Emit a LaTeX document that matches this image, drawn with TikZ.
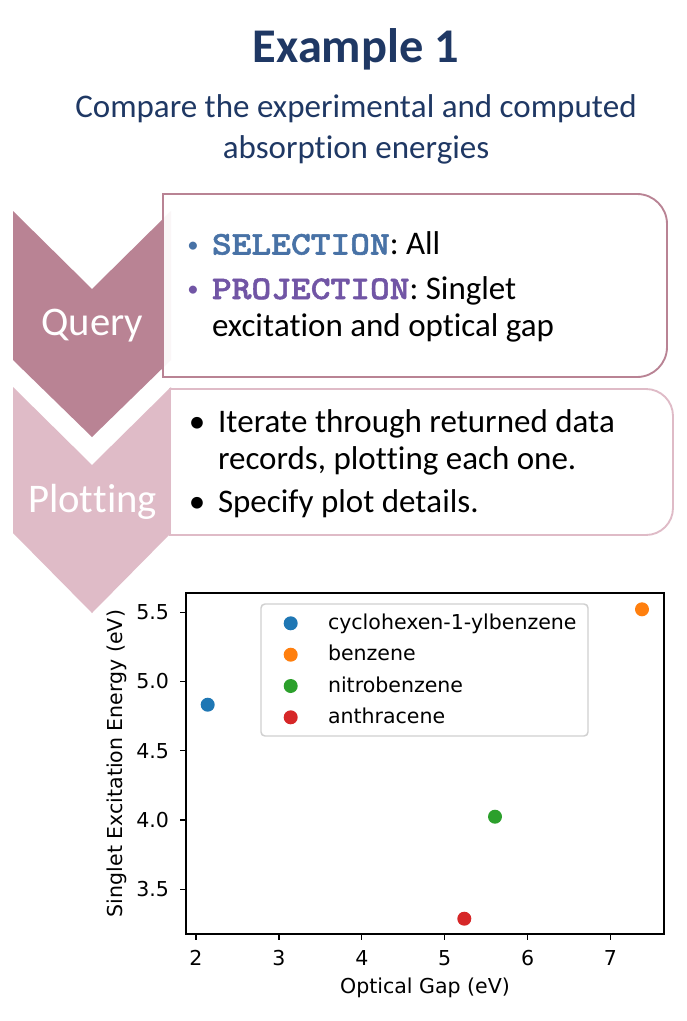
\documentclass[tikz,border=0pt]{standalone}
\usepackage{fontspec}
\setmainfont{Carlito}[Ligatures={NoCommon}]
\newfontfamily\plotf{DejaVu Sans}
\newfontfamily\courf{lmmonolt10-bold.otf}[FakeStretch=1.14, FakeBold=1.6]
\XeTeXinterchartokenstate=1
\newXeTeXintercharclass\tclass
\XeTeXcharclass`t=\tclass
\XeTeXinterchartoks\tclass 0 = {\kern0pt}
\XeTeXinterchartoks\tclass\tclass = {\kern0pt}
\definecolor{navy}{RGB}{31,56,100}
\definecolor{qcol}{RGB}{185,131,148}
\definecolor{pcol}{RGB}{223,187,199}
\definecolor{selblue}{RGB}{72,114,166}
\definecolor{projpurple}{RGB}{113,85,165}
\definecolor{mblue}{HTML}{1F77B4}
\definecolor{morange}{HTML}{FF7F0E}
\definecolor{mgreen}{HTML}{2CA02C}
\definecolor{mred}{HTML}{D62728}
\definecolor{leggray}{RGB}{208,208,208}
\newcommand{\codeword}[2]{{\courf\color{#1}#2}}
\tikzset{
  every node/.style={inner sep=0pt, outer sep=0pt},
  titletext/.style={font=\fontsize{36.3}{44}\selectfont\bfseries, text=navy, anchor=base},
  subtext/.style={font=\fontsize{24.75}{30}\selectfont, text=navy, anchor=base},
  bodytext/.style={font=\fontsize{24.75}{30}\selectfont, anchor=base west},
  smallbullet/.style={font=\fontsize{17}{20}\selectfont, anchor=base},
  bigbullet/.style={font=\fontsize{24.75}{30}\selectfont, anchor=base},
  steplabel/.style={font=\fontsize{30.5}{36}\selectfont, text=white, anchor=base},
  plottext/.style={font=\plotf\fontsize{15.4}{18}\selectfont},
  axisline/.style={draw=black, line width=1.1pt},
  tickline/.style={draw=black, line width=0.9pt},
  legendbox/.style={draw=leggray, line width=1.1pt, fill=white, fill opacity=0.8, rounded corners=3pt},
  dot/.style={circle, minimum size=10.5pt},
  querybox/.style={draw=qcol, line width=1.4pt, fill=white, fill opacity=0.93},
  plotbox/.style={draw=pcol, line width=1.4pt, fill=white, fill opacity=0.93},
}
\begin{document}
\begin{tikzpicture}[x=0.75pt,y=-0.75pt]
\useasboundingbox (0,0) rectangle (686,1021);
\fill[white] (0,0) rectangle (686,1021);

% title
\node[titletext] (title) at (356,62) {Example 1};
\node[subtext] (sub1) at (356,117) {Compare the experimental and computed};
\node[subtext] (sub2) at (356,158) {absorption energies};

% chevrons
\fill[qcol] (13,211) -- (92,289) -- (171,211) -- (171,360) -- (92,437) -- (13,360) -- cycle;
\fill[pcol] (13,387) -- (92,465) -- (171,387) -- (171,533) -- (92,613) -- (13,533) -- cycle;

% boxes
\path[querybox] (163,194) -- (637,194) arc[start angle=-90, end angle=0, radius=30]
  -- (667,347) arc[start angle=0, end angle=90, radius=30] -- (163,377) -- cycle;
\path[plotbox] (170,389) -- (646,389) arc[start angle=-90, end angle=0, radius=27]
  -- (673,508) arc[start angle=0, end angle=90, radius=27] -- (170,535) -- cycle;

% step labels
\node[steplabel] (query) at (92.5,335) {Query};
\node[steplabel] (plotting) at (92.5,512) {Plotting};

% query box text
\node[smallbullet, text=selblue] (qb1) at (193,252) {•};
\node[bodytext] (q1) at (212,254.5) {\codeword{selblue}{SELECTION}: All};
\node[smallbullet, text=projpurple] (qb2) at (193,296.5) {•};
\node[bodytext] (q2) at (212,299) {\codeword{projpurple}{PROJECTION}: Singlet};
\node[bodytext] (q3) at (212,336) {excitation and optical gap};

% plotting box text
\node[bigbullet] (pb1) at (197,432) {•};
\node[bodytext] (p1) at (218,432) {Iterate through returned data};
\node[bodytext] (p2) at (218,469) {records, plotting each one.};
\node[bigbullet] (pb2) at (197,512) {•};
\node[bodytext] (p3) at (218,512) {Specify plot details.};

% plot axes
\draw[axisline] (186,593) rectangle (664,934);
\foreach \v in {2,3,4,5,6,7}{
  \draw[tickline] ({196+82.9*(\v-2)},934) -- ({196+82.9*(\v-2)},940);
  \node[plottext, anchor=base] (xt\v) at ({196+82.9*(\v-2)},965.5) {\v};
}
\foreach \v/\yy in {5.5/612.3, 5.0/681.5, 4.5/750.8, 4.0/820.0, 3.5/889.3}{
  \draw[tickline] (180,\yy) -- (186,\yy);
  \node[plottext, anchor=east] (yt\v) at (169,\yy) {\v};
}
\node[plottext, anchor=base] (xlab) at (425,993) {Optical Gap (eV)};
\node[plottext, rotate=90] (ylab) at (117,763.5) {Singlet Excitation Energy (eV)};

% legend
\path[legendbox] (261,604) rectangle (588,736);
\node[dot, fill=mblue] (lm1) at (290.7,623.3) {};
\node[dot, fill=morange] (lm2) at (290.7,654.7) {};
\node[dot, fill=mgreen] (lm3) at (290.7,686.0) {};
\node[dot, fill=mred] (lm4) at (290.7,717.3) {};
\node[plottext, anchor=base west] (lt1) at (328,629.3) {cyclohexen-1-ylbenzene};
\node[plottext, anchor=base west] (lt2) at (328,660.7) {benzene};
\node[plottext, anchor=base west] (lt3) at (328,692.0) {nitrobenzene};
\node[plottext, anchor=base west] (lt4) at (328,723.3) {anthracene};

% data points
\node[dot, fill=mblue] (pt1) at (207.7,704.7) {};
\node[dot, fill=morange] (pt2) at (642,609.3) {};
\node[dot, fill=mgreen] (pt3) at (495,816.7) {};
\node[dot, fill=mred] (pt4) at (464.3,918.7) {};
\end{tikzpicture}
\end{document}
